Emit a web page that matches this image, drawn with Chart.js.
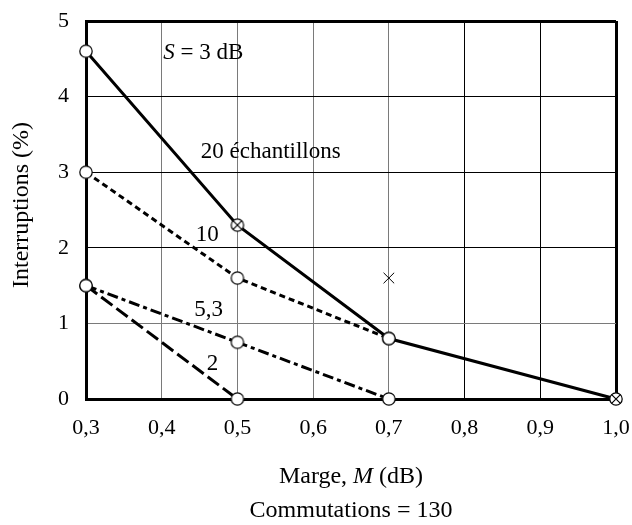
<!DOCTYPE html>
<html>
<head>
<meta charset="utf-8">
<script src="https://cdn.jsdelivr.net/npm/chart.js@4/dist/chart.umd.min.js"></script>
<style>
  html, body { margin: 0; padding: 0; background: #fff; }
  #wrap { width: 632px; height: 525px; }
</style>
</head>
<body>
<div id="wrap"><canvas id="chart"></canvas></div>
<script>
// Marge M (dB) on x, interruptions (%) on y
const xTicks = [0.3, 0.4, 0.5, 0.6, 0.7, 0.8, 0.9, 1.0];
const yTicks = [0, 1, 2, 3, 4, 5];

const marge20 = [0.3, 0.5, 0.7, 1.0];
const interr20 = [4.6, 2.3, 0.8, 0];
const marge10 = [0.3, 0.5, 0.7];
const interr10 = [3.0, 1.6, 0.8];
const marge53 = [0.3, 0.5, 0.7];
const interr53 = [1.5, 0.75, 0];
const marge2 = [0.3, 0.5];
const interr2 = [1.5, 0];

// points on the 20-sample curve drawn as a crossed circle
const crossedMarge = [0.5, 1.0];
// lone cross mark
const loneMarge = [0.7];
const loneInterr = [1.6];

const FONT = '"Liberation Serif", "Times New Roman", serif';
const TICK_SIZE = 22;
const LABEL_SIZE = 23;
const TITLE_SIZE = 24;

function pts(xs, ys) { return xs.map((x, i) => ({ x, y: ys[i] })); }

function makeMarker(crossed) {
  const c = document.createElement('canvas');
  c.width = 16; c.height = 16;
  const g = c.getContext('2d');
  const r = 6.2;
  g.beginPath();
  g.arc(8, 8, r, 0, Math.PI * 2);
  g.fillStyle = '#fff';
  g.fill();
  g.lineWidth = 1.2;
  g.strokeStyle = '#000';
  g.stroke();
  if (crossed) {
    const d = r * Math.SQRT1_2;
    g.beginPath();
    g.moveTo(8 - d, 8 - d); g.lineTo(8 + d, 8 + d);
    g.moveTo(8 + d, 8 - d); g.lineTo(8 - d, 8 + d);
    g.stroke();
  }
  return c;
}
const openDot = makeMarker(false);
const crossDot = makeMarker(true);

const allMarkers = [].concat(
  pts(marge20, interr20), pts(marge10, interr10),
  pts(marge53, interr53), pts(marge2, interr2)
);

// text in the plot: [x, y, pieces]
const plotTexts = [
  [0.455, 4.58, [['S', true], [' = 3 dB', false]]],
  [0.544, 3.27, [['20 échantillons', false]]],
  [0.460, 2.17, [['10', false]]],
  [0.462, 1.18, [['5,3', false]]],
  [0.467, 0.46, [['2', false]]]
];

function drawPieces(ctx, pieces, cx, cy, size) {
  let w = 0;
  pieces.forEach(p => {
    ctx.font = (p[1] ? 'italic ' : '') + size + 'px ' + FONT;
    w += ctx.measureText(p[0]).width;
  });
  let x = cx - w / 2;
  ctx.textAlign = 'left';
  ctx.textBaseline = 'middle';
  pieces.forEach(p => {
    ctx.font = (p[1] ? 'italic ' : '') + size + 'px ' + FONT;
    ctx.fillText(p[0], x, cy);
    x += ctx.measureText(p[0]).width;
  });
}

const textPlugin = {
  id: 'texts',
  afterDraw(chart) {
    const ctx = chart.ctx;
    const xs = chart.scales.x, ys = chart.scales.y;
    const area = chart.chartArea;
    ctx.save();
    ctx.fillStyle = '#000';
    plotTexts.forEach(t => drawPieces(ctx, t[2], xs.getPixelForValue(t[0]), ys.getPixelForValue(t[1]), LABEL_SIZE));
    const mid = (area.left + area.right) / 2;
    drawPieces(ctx, [['Marge, ', false], ['M', true], [' (dB)', false]], mid, 477, TITLE_SIZE);
    drawPieces(ctx, [['Commutations = 130', false]], mid, 511, TITLE_SIZE);
    ctx.translate(22, (area.top + area.bottom) / 2 - 5);
    ctx.rotate(-Math.PI / 2);
    drawPieces(ctx, [['Interruptions (%)', false]], 0, 0, TITLE_SIZE);
    ctx.restore();
  }
};

const grayX = [0.4, 0.5, 0.6, 0.7];
const grayY = [1];
function gridColor(v, grays) {
  return grays.some(g => Math.abs(g - v) < 1e-6) ? '#7a7a7a' : '#000';
}
function noOverhang(s) {
  s.paddingLeft = 0; s.paddingRight = 0; s.paddingTop = 0; s.paddingBottom = 0;
}

new Chart(document.getElementById('chart'), {
  type: 'scatter',
  data: {
    datasets: [
      {
        label: 'markers',
        data: allMarkers,
        showLine: false,
        pointStyle: ctx => {
          const p = ctx.raw;
          if (!p) return openDot;
          const onCurve20 = marge20.some((m, i) => m === p.x && interr20[i] === p.y);
          return onCurve20 && crossedMarge.includes(p.x) ? crossDot : openDot;
        },
        clip: false
      },
      {
        label: 'lone',
        data: pts(loneMarge, loneInterr),
        showLine: false,
        pointStyle: 'crossRot',
        pointRadius: 7.5,
        borderColor: '#000',
        borderWidth: 1,
        clip: false
      },
      {
        label: '20',
        data: pts(marge20, interr20),
        showLine: true,
        borderColor: '#000',
        borderWidth: 3,
        pointRadius: 0,
        clip: false
      },
      {
        label: '10',
        data: pts(marge10, interr10),
        showLine: true,
        borderColor: '#000',
        borderWidth: 3,
        borderDash: [6, 4],
        pointRadius: 0,
        clip: false
      },
      {
        label: '5,3',
        data: pts(marge53, interr53),
        showLine: true,
        borderColor: '#000',
        borderWidth: 3,
        borderDash: [11, 4, 4, 4],
        pointRadius: 0,
        clip: false
      },
      {
        label: '2',
        data: pts(marge2, interr2),
        showLine: true,
        borderColor: '#000',
        borderWidth: 3,
        borderDash: [14, 5],
        pointRadius: 0,
        clip: false
      }
    ]
  },
  options: {
    responsive: true,
    maintainAspectRatio: false,
    animation: false,
    layout: { padding: { top: 21, right: 16, left: 0, bottom: 0 } },
    plugins: { legend: { display: false }, tooltip: { enabled: false } },
    scales: {
      x: {
        type: 'linear',
        min: 0.3, max: 1.0,
        afterBuildTicks: s => { s.ticks = xTicks.map(v => ({ value: v })); },
        afterFit: s => { s.height = 126; noOverhang(s); },
        ticks: {
          color: '#000',
          font: { family: FONT, size: TICK_SIZE },
          padding: 16,
          maxRotation: 0,
          callback: v => v.toFixed(1).replace('.', ',')
        },
        grid: {
          drawTicks: false,
          color: c => gridColor(c.tick.value, grayX),
          lineWidth: c => (Math.abs(c.tick.value - 1.0) < 1e-6 ? 3 : 1)
        },
        border: { color: '#000', width: 3 }
      },
      y: {
        type: 'linear',
        min: 0, max: 5,
        afterBuildTicks: s => { s.ticks = yTicks.map(v => ({ value: v })); },
        afterFit: s => { s.width = 86; noOverhang(s); },
        ticks: {
          color: '#000',
          font: { family: FONT, size: TICK_SIZE },
          padding: 17,
          callback: v => String(v)
        },
        grid: {
          drawTicks: false,
          color: c => gridColor(c.tick.value, grayY),
          lineWidth: c => (c.tick.value === 5 ? 3 : 1)
        },
        border: { color: '#000', width: 3 }
      }
    }
  },
  plugins: [textPlugin]
});
</script>
</body>
</html>
